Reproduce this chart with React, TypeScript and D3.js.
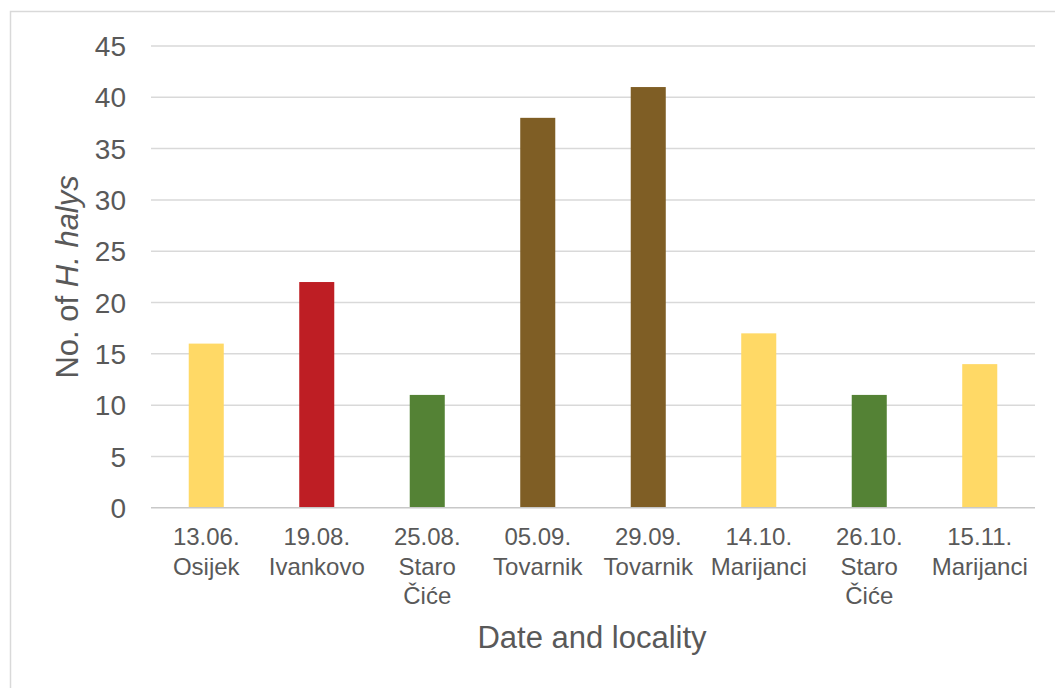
import React from "react";
import * as d3 from "d3";

const dates = ["13.06.", "19.08.", "25.08.", "05.09.", "29.09.", "14.10.", "26.10.", "15.11."];
const localities = [["Osijek"], ["Ivankovo"], ["Staro", "Čiće"], ["Tovarnik"], ["Tovarnik"], ["Marijanci"], ["Staro", "Čiće"], ["Marijanci"]];
const counts = [16, 22, 11, 38, 41, 17, 11, 14];
const barColors = ["#FFD966", "#BE1E24", "#548235", "#7F5E25", "#7F5E25", "#FFD966", "#548235", "#FFD966"];
const yTicks = [0, 5, 10, 15, 20, 25, 30, 35, 40, 45];

const W = 1055;
const H = 688;
const plotLeft = 151;
const plotRight = 1035;
const plotTop = 46;
const plotBottom = 507.8;
const textColor = "#595959";
const font = "'Liberation Sans', Arial, sans-serif";

export default function App() {
  const x = d3
    .scaleBand<number>()
    .domain(d3.range(counts.length))
    .range([plotLeft, plotRight])
    .paddingInner(0.683)
    .paddingOuter(0.683 / 2);
  const y = d3.scaleLinear().domain([0, 45]).range([plotBottom, plotTop]);

  return (
    <svg
      width={W}
      height={H}
      style={{ position: "absolute", left: 0, top: 0, background: "#fff" }}
      fontFamily={font}
    >
      <rect x={10.5} y={11.5} width={1060} height={690} fill="#fff" stroke="#D9D9D9" strokeWidth={1.5} />
      {yTicks.map((t) => (
        <g key={t}>
          {t !== 0 && (
            <line x1={plotLeft} x2={plotRight} y1={y(t)} y2={y(t)} stroke="#D9D9D9" strokeWidth={1.5} />
          )}
          <text x={126} y={y(t)} dy="0.36em" textAnchor="end" fontSize={28} fill={textColor}>
            {t}
          </text>
        </g>
      ))}
      {counts.map((v, i) => (
        <rect
          key={i}
          x={x(i)}
          y={y(v)}
          width={x.bandwidth()}
          height={y(0) - y(v)}
          fill={barColors[i]}
        />
      ))}
      <line x1={plotLeft} x2={plotRight} y1={y(0)} y2={y(0)} stroke="#C8C8C8" strokeWidth={1.5} />
      {dates.map((d, i) => {
        const cx = (x(i) as number) + x.bandwidth() / 2;
        const lines = [d, ...localities[i]];
        return (
          <text key={i} textAnchor="middle" fontSize={24} fill={textColor}>
            {lines.map((l, j) => (
              <tspan key={j} x={cx} y={545 + j * 29.5}>
                {l}
              </tspan>
            ))}
          </text>
        );
      })}
      <text x={592} y={648} textAnchor="middle" fontSize={31} fill={textColor}>
        Date and locality
      </text>
      <text
        transform={`translate(78, ${(plotTop + plotBottom) / 2 + 0}) rotate(-90)`}
        textAnchor="middle"
        fontSize={31}
        fill={textColor}
      >
        No. of <tspan fontStyle="italic">H. halys</tspan>
      </text>
    </svg>
  );
}
